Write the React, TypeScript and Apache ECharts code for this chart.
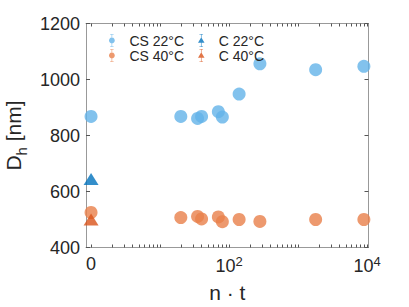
import React, { useEffect, useRef } from "react";
import * as echarts from "echarts";

// n·t values (0 is drawn at the axis' left "0" position)
const ntValues = [0, 20, 35, 40, 70, 80, 140, 280, 1800, 9000];
const cs22 = [868, 868, 861, 868, 885, 866, 948, 1056, 1035, 1047];
const cs40 = [525, 507, 511, 502, 509, 492, 500, 493, 500, 500];
const c22 = [645];
const c40 = [500];
const cNt = [0];

const yTicks = [400, 600, 800, 1000, 1200];
const xLabelValues = [1, 100, 10000];

const ZERO_POS = 1; // where n·t = 0 is placed on the log axis
const FONT = "'Liberation Sans', Arial, Helvetica, sans-serif";
const TXT = "#262626";
const AX = "#999999";

const minorTicks: number[] = [];
for (let k = 0; k < 4; k++) for (let d = 1; d <= 9; d++) minorTicks.push(d * Math.pow(10, k));
minorTicks.push(10000);

const pos = (v: number) => (v === 0 ? ZERO_POS : v);
const pts = (xs: number[], ys: number[]) => ys.map((y, i) => [pos(xs[i]), y]);

const circleIcon =
  "path://M10,6 A4,4 0 1,1 9.99,6 Z M9.6,1 h0.8 v18 h-0.8 Z M7.5,1 h5 v0.8 h-5 Z M7.5,18.2 h5 v0.8 h-5 Z";
const triIcon =
  "path://M10,5.5 L14.5,13 L5.5,13 Z M9.6,1 h0.8 v18 h-0.8 Z M7.5,1 h5 v0.8 h-5 Z M7.5,18.2 h5 v0.8 h-5 Z";

export default function App() {
  const ref = useRef<HTMLDivElement>(null);
  useEffect(() => {
    if (!ref.current) return;
    const chart = echarts.init(ref.current, null, { renderer: "svg" });
    const xCommon = {
      type: "log" as const,
      logBase: 10,
      min: 0.845,
      max: 10500,
      splitLine: { show: false },
      axisLine: { show: true, lineStyle: { color: AX, width: 1 } },
      axisTick: {
        show: true,
        inside: true,
        length: 3,
        customValues: minorTicks,
        lineStyle: { color: "#555", width: 1 },
      },
    };
    const yCommon = {
      type: "value" as const,
      min: yTicks[0],
      max: yTicks[yTicks.length - 1],
      interval: 200,
      splitLine: { show: false },
      axisLine: { show: true, lineStyle: { color: AX, width: 1 } },
      axisTick: { show: true, inside: true, length: 4, lineStyle: { color: "#555" } },
    };
    const legendText = { fontSize: 14, color: TXT, lineHeight: 14, fontFamily: FONT };
    chart.setOption({
      animation: false,
      textStyle: { fontFamily: FONT },
      grid: {
        left: 86,
        right: 40.5,
        top: 23.5,
        bottom: 59.5,
        containLabel: false,
        outerBoundsMode: "none",
      },
      xAxis: [
        {
          ...xCommon,
          position: "bottom",
          name: "n · t",
          nameLocation: "middle",
          nameGap: 34,
          nameTextStyle: { fontSize: 21, color: TXT, fontFamily: FONT },
          axisLabel: {
            show: true,
            customValues: xLabelValues,
            margin: 7,
            color: TXT,
            fontSize: 18,
            fontFamily: FONT,
            formatter: (v: number) => {
              if (v < 1.5) return "{b|0}";
              if (v < 1000) return "{b|10}{s|2}";
              return "{b|10}{s|4}";
            },
            rich: {
              b: { fontSize: 18, color: TXT, fontFamily: FONT },
              s: { fontSize: 13, color: TXT, fontFamily: FONT, padding: [0, 0, 10, 0] },
            },
          },
        },
        { ...xCommon, position: "top", axisLabel: { show: false } },
      ],
      yAxis: [
        {
          ...yCommon,
          position: "left",
          name: "{a|D}{b|h}{a| [nm]}",
          nameLocation: "middle",
          nameGap: 56,
          nameRotate: 90,
          nameTextStyle: {
            rich: {
              a: { fontSize: 21, color: TXT, fontFamily: FONT },
              b: { fontSize: 15, color: TXT, fontFamily: FONT, padding: [16, 0, 0, 0] },
            },
          },
          axisLabel: {
            show: true,
            color: TXT,
            fontSize: 18,
            margin: 6,
            fontFamily: FONT,
            formatter: (v: number) => String(v),
          },
        },
        { ...yCommon, position: "right", axisLabel: { show: false } },
      ],
      legend: [
        {
          orient: "vertical",
          left: 104,
          top: 28.5,
          itemWidth: 25,
          itemHeight: 13,
          itemGap: 1,
          textStyle: legendText,
          data: [
            { name: "CS 22°C", icon: circleIcon },
            { name: "CS 40°C", icon: circleIcon },
          ],
        },
        {
          orient: "vertical",
          left: 193,
          top: 28.5,
          itemWidth: 25,
          itemHeight: 13,
          itemGap: 1,
          textStyle: legendText,
          data: [
            { name: "C 22°C", icon: triIcon },
            { name: "C 40°C", icon: triIcon },
          ],
        },
      ],
      series: [
        {
          name: "CS 22°C",
          type: "scatter",
          symbol: "circle",
          symbolSize: 13,
          itemStyle: { color: "#63b3e8" },
          data: pts(ntValues, cs22),
        },
        {
          name: "CS 40°C",
          type: "scatter",
          symbol: "circle",
          symbolSize: 13,
          itemStyle: { color: "#e8804a" },
          data: pts(ntValues, cs40),
        },
        {
          name: "C 22°C",
          type: "scatter",
          symbol: "triangle",
          symbolSize: [15, 12],
          itemStyle: { color: "#0072bd" },
          data: pts(cNt, c22),
        },
        {
          name: "C 40°C",
          type: "scatter",
          symbol: "triangle",
          symbolSize: [15, 12],
          itemStyle: { color: "#d95319" },
          data: pts(cNt, c40),
        },
      ],
    });
    return () => chart.dispose();
  }, []);
  return (
    <div
      ref={ref}
      style={{ position: "fixed", left: 0, top: 0, width: 409, height: 307, background: "#fff" }}
    />
  );
}
